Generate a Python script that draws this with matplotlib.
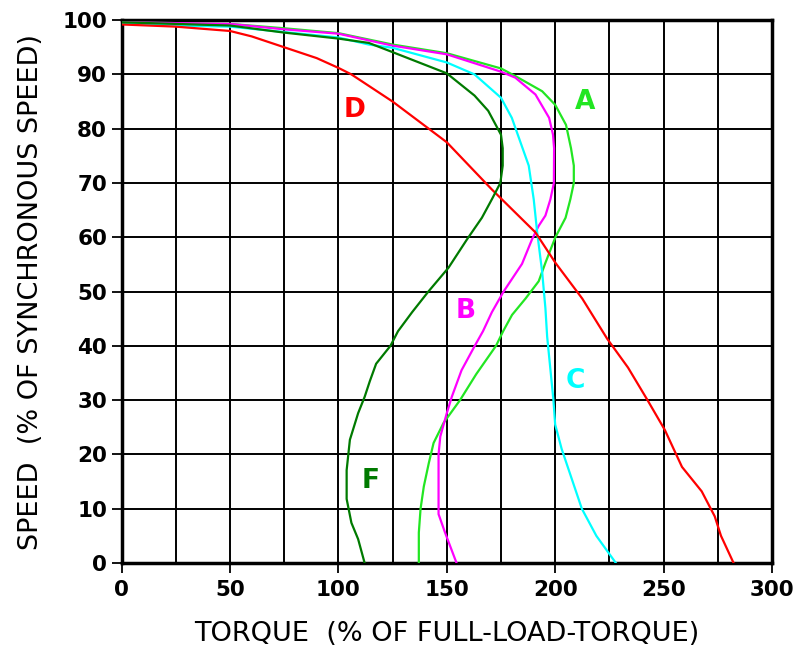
import matplotlib
matplotlib.use("Agg")
import matplotlib.pyplot as plt

# --- data: speed (% of synchronous) vs torque (% of full-load) ---
speed_a = [99.6, 99.3, 98.5, 97.6, 95.5, 93.9, 91.1, 89.7, 86.9, 84.4, 80.7, 76.4, 73.2, 70, 67, 63.6, 60,
           55.3, 51.9, 48.7, 45.7, 42.7, 40, 34.8, 30, 25.8, 22.1, 18.4, 14.1, 10, 5.6, 0]
torque_a = [0, 50, 75, 100, 125, 150, 175, 181.6, 194, 200, 205, 207.3, 208.6, 208.6, 207, 204.8, 200.1,
            195.5, 192.4, 186.3, 180.1, 176, 172.7, 163.6, 156.1, 148.5, 143.9, 141.7, 139.4, 137.9, 137.1, 137.1]

speed_b = [99.6, 99.3, 98.3, 97.5, 95.3, 93.7, 90.5, 89.4, 86.3, 82, 78.9, 76.4, 70, 67, 64, 62.1, 59.6,
           55.1, 50, 46.2, 42.7, 40, 35.5, 30.6, 27.6, 23.3, 20, 15.1, 9, 5.6, 0]
torque_b = [0, 50, 75, 100, 125, 150, 175, 181.6, 190.9, 197.2, 199, 199.5, 199.4, 197.8, 195.5, 192.4, 189.3,
            184.7, 176.2, 170.8, 166.7, 162.9, 156.8, 152.3, 150, 147, 146.2, 146.2, 146.2, 149.2, 154.5]

speed_c = [99.5, 99, 98.8, 97.8, 96.8, 95.5, 94.9, 92.2, 90, 85.7, 82, 77.6, 73.2, 67, 60.9, 53.6, 46.9,
           41.7, 30, 25.5, 21, 10, 5, 0]
torque_c = [0, 25, 50, 75, 100, 114, 125, 150, 162.8, 175, 180, 183.9, 187.8, 190.1, 191.7, 194, 195.5,
            196.3, 199.2, 200, 203, 212.3, 219, 228]

speed_d = [99.2, 98.8, 98, 97, 95, 93, 91.2, 90, 85, 77.5, 68.8, 60.9, 55.3, 48.7, 41.3, 36, 30,
           24.5, 17.7, 13.2, 8.6, 5, 0]
torque_d = [0, 25, 50, 60, 75, 90, 100, 106, 125, 150, 170.8, 190.9, 200.1, 212.5, 224, 233.6, 242.6,
            250.6, 258.5, 267.6, 273.6, 276.5, 282.3]

speed_f = [99.6, 99, 97.7, 96.6, 95.8, 94.1, 90.2, 86.1, 83.3, 78.9, 76.4, 73.2, 70, 67, 63.6, 59.6, 54.4,
           50, 46.2, 42.7, 40, 36.7, 33.5, 30.6, 27.6, 22.7, 17.1, 11.8, 7.4, 4.4, 0]
torque_f = [0, 50, 75, 100, 114, 125, 150, 162.8, 169.1, 175, 175.8, 175.8, 174.7, 170.8, 166.2, 159.3, 150.8,
            141.5, 134, 127.5, 124, 117.4, 114.5, 112.1, 109.1, 105.3, 103.8, 103.8, 106, 109.1, 112.1]

names = ["A", "B", "C", "D", "F"]
label_x = [214, 158.5, 209.2, 107.5, 114.7]
label_y = [85, 46.5, 33.6, 83.5, 15.1]

colors = ["#22e622", "#ff00ff", "#00ffff", "#ff0000", "#007a00"]
series = [(torque_a, speed_a), (torque_b, speed_b), (torque_c, speed_c),
          (torque_d, speed_d), (torque_f, speed_f)]

plt.rcParams["font.family"] = ["DejaVu Sans"]

fig = plt.figure(figsize=(7.95, 6.49), dpi=100)
ax = fig.add_axes([0.153, 0.1325, 0.818, 0.8365])

for (tq, sp), col, name, lx, ly in zip(series, colors, names, label_x, label_y):
    ax.plot(tq, sp, color=col, linewidth=1.6, zorder=3)
    ax.text(lx, ly, name, color=col, fontsize=19, fontweight="bold",
            ha="center", va="center", zorder=4)

ax.set_xlim(0, 300)
ax.set_ylim(0, 100)
ax.set_xticks(range(0, 301, 50))
ax.set_xticks(range(25, 300, 50), minor=True)
ax.set_yticks(range(0, 101, 10))
ax.grid(True, which="both", color="black", linewidth=1.4)
ax.set_axisbelow(True)

for s in ax.spines.values():
    s.set_linewidth(2.5)

ax.tick_params(axis="both", which="major", labelsize=15.5, length=7, width=1.3, direction="out")
ax.tick_params(axis="x", which="major", pad=5)
ax.tick_params(axis="x", which="minor", length=0)
for lab in ax.get_xticklabels() + ax.get_yticklabels():
    lab.set_fontweight("bold")

ax.set_xlabel("TORQUE  (% OF FULL-LOAD-TORQUE)", fontsize=19.5, labelpad=15)
ax.set_ylabel("SPEED  (% OF SYNCHRONOUS SPEED)", fontsize=19.5, labelpad=13)

fig.savefig("out.png", dpi=100)
